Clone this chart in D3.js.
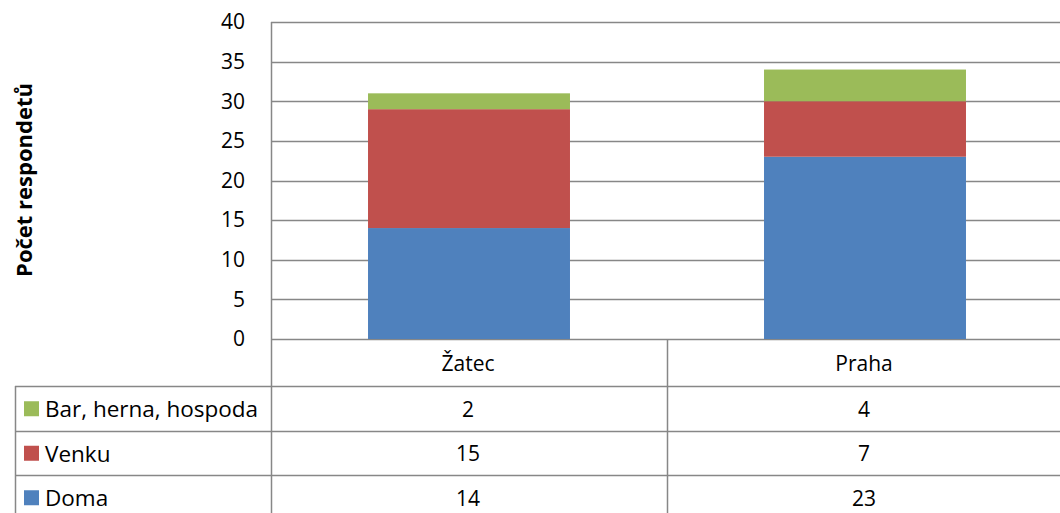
<!DOCTYPE html>
<html>
<head>
<meta charset="utf-8">
<script src="https://cdn.jsdelivr.net/npm/d3@7"></script>
<style>
  body { margin: 0; background: #fff; }
  text { font-family: "Open Sans", "Liberation Sans", sans-serif; fill: #000; }
</style>
</head>
<body>
<div id="chart"></div>
<script>
// data
var categories = ["Žatec", "Praha"];
var seriesNames = ["Doma", "Venku", "Bar, herna, hospoda"];
var doma = [14, 23];
var venku = [15, 7];
var bar = [2, 4];
var yTicks = [0, 5, 10, 15, 20, 25, 30, 35, 40];

var colors = ["#4f81bd", "#c0504d", "#9bbb59"];

var width = 1060, height = 513;
var plotLeft = 271, plotRight = 1063, plotTop = 22, plotBottom = 339;
var rowH = 44.5;
var gridColor = "#878787";
var fontSize = "21px";
var tableFont = "22.5px";

var svg = d3.select("#chart").append("svg")
  .attr("width", width)
  .attr("height", height);

var x = d3.scaleBand().domain(categories).range([plotLeft, plotRight]);
var y = d3.scaleLinear().domain([0, 40]).range([plotBottom, plotTop]);

// gridlines
svg.append("g").selectAll("line")
  .data(yTicks)
  .enter().append("line")
  .attr("x1", plotLeft).attr("x2", plotRight)
  .attr("y1", function (d) { return Math.round(y(d)) + 0.5; })
  .attr("y2", function (d) { return Math.round(y(d)) + 0.5; })
  .attr("stroke", gridColor)
  .attr("stroke-width", 1.5);

// y tick labels
svg.append("g").selectAll("text")
  .data(yTicks)
  .enter().append("text")
  .attr("x", 245)
  .attr("y", function (d) { return y(d); })
  .attr("dy", "0.35em")
  .attr("text-anchor", "end")
  .style("font-size", fontSize)
  .text(function (d) { return d; });

// stacked bars
var stackData = categories.map(function (c, i) {
  return { cat: c, doma: doma[i], venku: venku[i], bar: bar[i] };
});
var layers = d3.stack().keys(["doma", "venku", "bar"])(stackData);
var barW = x.bandwidth() * 0.51;

svg.append("g").selectAll("g")
  .data(layers)
  .enter().append("g")
  .attr("fill", function (d, i) { return colors[i]; })
  .selectAll("rect")
  .data(function (d) { return d; })
  .enter().append("rect")
  .attr("x", function (d) { return x(d.data.cat) + (x.bandwidth() - barW) / 2; })
  .attr("y", function (d) { return y(d[1]); })
  .attr("width", barW)
  .attr("height", function (d) { return y(d[0]) - y(d[1]); });

// y axis line
svg.append("line")
  .attr("x1", plotLeft + 0.5).attr("x2", plotLeft + 0.5)
  .attr("y1", plotTop).attr("y2", height)
  .attr("stroke", gridColor).attr("stroke-width", 1.5);

// data table
var tableTop = 386;
var rows = [
  { name: seriesNames[2], vals: bar, color: colors[2] },
  { name: seriesNames[1], vals: venku, color: colors[1] },
  { name: seriesNames[0], vals: doma, color: colors[0] }
];

// category header cells
svg.append("g").selectAll("text")
  .data(categories)
  .enter().append("text")
  .attr("x", function (d) { return x(d) + x.bandwidth() / 2 - 1; })
  .attr("y", (plotBottom + tableTop) / 2 + 1)
  .attr("dy", "0.35em")
  .attr("text-anchor", "middle")
  .style("font-size", fontSize)
  .text(function (d) { return d; });

// vertical lines
svg.append("line")
  .attr("x1", x(categories[1]) + 0.5).attr("x2", x(categories[1]) + 0.5)
  .attr("y1", plotBottom).attr("y2", height)
  .attr("stroke", gridColor).attr("stroke-width", 1.5);
svg.append("line")
  .attr("x1", 15.5).attr("x2", 15.5)
  .attr("y1", tableTop).attr("y2", height)
  .attr("stroke", gridColor).attr("stroke-width", 1.5);

// horizontal lines
svg.append("g").selectAll("line")
  .data(rows)
  .enter().append("line")
  .attr("x1", 15).attr("x2", plotRight)
  .attr("y1", function (d, i) { return Math.round(tableTop + i * rowH) + 0.5; })
  .attr("y2", function (d, i) { return Math.round(tableTop + i * rowH) + 0.5; })
  .attr("stroke", gridColor).attr("stroke-width", 1.5);

var rowG = svg.append("g").selectAll("g")
  .data(rows)
  .enter().append("g")
  .attr("transform", function (d, i) { return "translate(0," + (tableTop + i * rowH) + ")"; });

rowG.append("rect")
  .attr("x", 24).attr("y", rowH / 2 - 7)
  .attr("width", 15).attr("height", 15)
  .attr("fill", function (d) { return d.color; });

rowG.append("text")
  .attr("x", 45).attr("y", rowH / 2 + 1)
  .attr("dy", "0.35em")
  .style("font-size", tableFont)
  .text(function (d) { return d.name; });

rowG.selectAll("text.val")
  .data(function (d) { return d.vals; })
  .enter().append("text")
  .attr("class", "val")
  .attr("x", function (d, i) { return x(categories[i]) + x.bandwidth() / 2 - 1; })
  .attr("y", rowH / 2 + 1)
  .attr("dy", "0.35em")
  .attr("text-anchor", "middle")
  .style("font-size", fontSize)
  .text(function (d) { return d; });

// y axis title
svg.append("text")
  .attr("transform", "translate(24,180) rotate(-90)")
  .attr("dy", "0.35em")
  .attr("text-anchor", "middle")
  .style("font-size", "22px")
  .style("font-weight", "bold")
  .text("Počet respondetů");
</script>
</body>
</html>
